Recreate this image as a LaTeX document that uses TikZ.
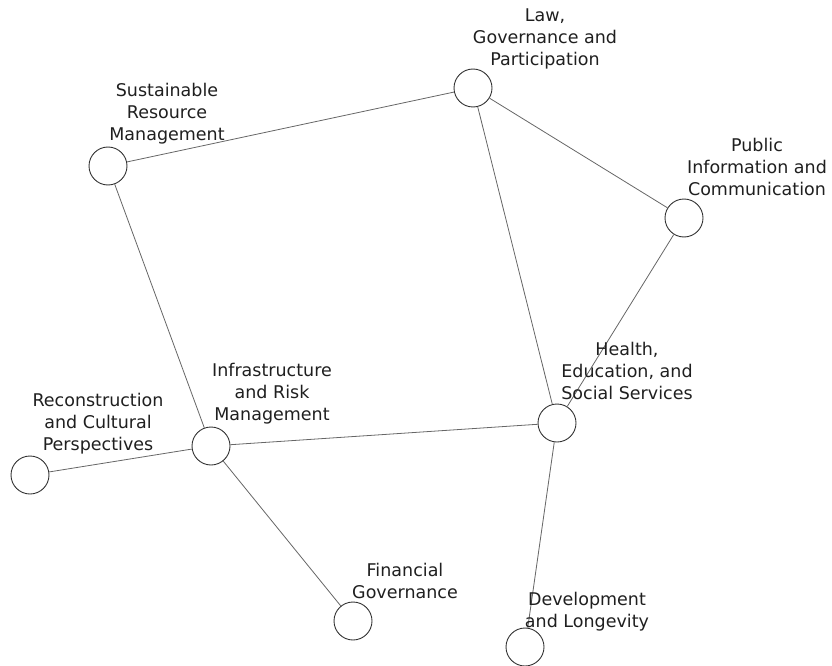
\documentclass[tikz,border=0pt]{standalone}
\usepackage{fontspec}
\setmainfont{DejaVu Sans}
\begin{document}
\begin{tikzpicture}[x=1pt,y=-1pt,
  hub/.style={circle,draw=black!80,line width=0.9pt,fill=white,minimum size=38pt,inner sep=0pt},
  lbl/.style={align=center,inner sep=0pt,font=\fontsize{17.5}{22}\selectfont,text=black!88},
  link/.style={draw=black!60,line width=0.8pt}]
\useasboundingbox (0,0) rectangle (832,666);
% circles
\node[hub] (law) at (473,88) {};
\node[hub] (sus) at (108,166) {};
\node[hub] (pub) at (684,218) {};
\node[hub] (hea) at (557,423) {};
\node[hub] (inf) at (211,446) {};
\node[hub] (rec) at (30,475) {};
\node[hub] (fin) at (353,621) {};
\node[hub] (dev) at (525,647) {};
% links
\draw[link] (law) -- (sus);
\draw[link] (law) -- (pub);
\draw[link] (law) -- (hea);
\draw[link] (pub) -- (hea);
\draw[link] (sus) -- (inf);
\draw[link] (inf) -- (hea);
\draw[link] (inf) -- (rec);
\draw[link] (inf) -- (fin);
\draw[link] (hea) -- (dev);
% labels
\node[lbl] (tlaw) at (545,39) {Law,\\Governance and\\Participation};
\node[lbl] (tsus) at (167,114) {Sustainable\\Resource\\Management};
\node[lbl] (tpub) at (757,167) {Public\\Information and\\Communication};
\node[lbl] (thea) at (627,371) {Health,\\Education, and\\Social Services};
\node[lbl] (tinf) at (272,394) {Infrastructure\\and Risk\\Management};
\node[lbl] (trec) at (98,424) {Reconstruction\\and Cultural\\Perspectives};
\node[lbl] (tfin) at (405,581) {Financial\\Governance};
\node[lbl] (tdev) at (587,612) {Development\\and Longevity};
\end{tikzpicture}
\end{document}
